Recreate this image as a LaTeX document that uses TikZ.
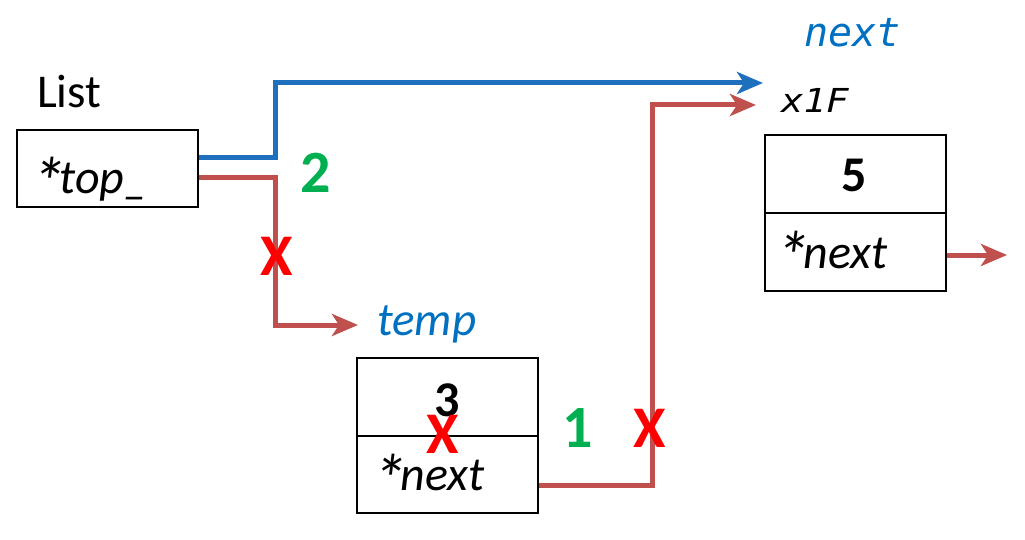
\documentclass[tikz,border=0pt]{standalone}
\usepackage{fontspec}
\setmainfont{Carlito}
\newfontfamily\codefont{DejaVu Sans Mono}
\usetikzlibrary{arrows.meta,calc}
\definecolor{linkblue}{HTML}{1F6FBF}
\definecolor{linkred}{HTML}{C0504D}
\definecolor{markred}{HTML}{FF0000}
\definecolor{stepgreen}{HTML}{00B050}
\definecolor{namblue}{HTML}{0070C0}
% a large pointer star in front of field names
\newcommand\ptrmark{\raisebox{-13pt}{\scalebox{1.45}{*}}\kern-6pt}
\begin{document}
\begin{tikzpicture}[x=1pt,y=-1pt,
  cell/.style={draw=black, line width=2pt, minimum width=181pt, minimum height=78pt, inner sep=0pt},
  digit/.style={anchor=base, inner sep=0pt, font=\fontsize{50}{50}\selectfont\bfseries},
  field/.style={anchor=base west, inner sep=0pt, font=\fontsize{48}{48}\selectfont\itshape},
  varname/.style={anchor=base west, inner sep=0pt, text=namblue, font=\fontsize{47}{47}\selectfont\itshape},
  stepno/.style={anchor=base, inner sep=0pt, text=stepgreen, font=\fontsize{60}{60}\selectfont\bfseries},
  cut/.style={anchor=base, inner sep=0pt, text=markred, font=\fontsize{59}{59}\selectfont\bfseries},
  link/.style={line width=5pt, line join=miter, -{Stealth[length=26pt,width=22pt,inset=7pt]}}]
\useasboundingbox (0,0) rectangle (1025,540);

% List head
\node[anchor=base west, inner sep=0pt, font=\fontsize{47}{47}\selectfont] (listlbl) at (37,108) {List};
\node[cell, minimum height=77pt] (topbox) at (107.5,168.5) {};
\node[field] (toplbl) at (31,194) {\ptrmark top\_};

% node holding 3
\node[cell] (tempdata) at (447,397) {};
\node[cell, minimum height=77pt] (tempnext) at (447,474.5) {};
\node[digit] (three) at (447,416) {3};
\node[field] (tempnextlbl) at (372,490) {\ptrmark next};
\node[varname] (templbl) at (377,335) {temp};

% node holding 5
\node[cell] (fivedata) at (855,174) {};
\node[cell] (fivenext) at (855,252) {};
\node[digit] (five) at (854,192) {5};
\node[field] (fivenextlbl) at (775,268) {\ptrmark next};
\node[anchor=base west, inner sep=0pt, text=namblue, font=\fontsize{40}{40}\selectfont\codefont\itshape] (nextlbl) at (804,47) {next};
\node[anchor=base west, inner sep=0pt, font=\fontsize{33}{33}\selectfont\codefont\itshape] (addrlbl) at (781,113) {\scalebox{1.13}[1]{x1F}};

% arrow ends
\coordinate (blueend) at (763,83);
\coordinate (tempend) at (358,325);
\coordinate (addrend) at (756,105);
\coordinate (tailend) at (1007,255);

% links
\draw[link, linkblue] ($(topbox.east)+(0,-10.5)$) -| (275,83) -- (blueend);
\draw[link, linkred] ($(topbox.east)+(0,9.5)$) -| (275,325) -- (tempend);
\draw[link, linkred] ($(tempnext.east)+(0,10.5)$) -| (652,105) -- (addrend);
\draw[link, linkred] ($(fivenext.east)+(0,3)$) -- (tailend);

% step numbers and cut marks
\node[stepno] (stepb) at (316,193) {2};
\node[stepno] (stepa) at (578,447) {1};
\node[cut] (cuta) at (277,275) {X};
\node[cut] (cutb) at (443,453) {X};
\node[cut] (cutc) at (650,447) {X};
\end{tikzpicture}
\end{document}
